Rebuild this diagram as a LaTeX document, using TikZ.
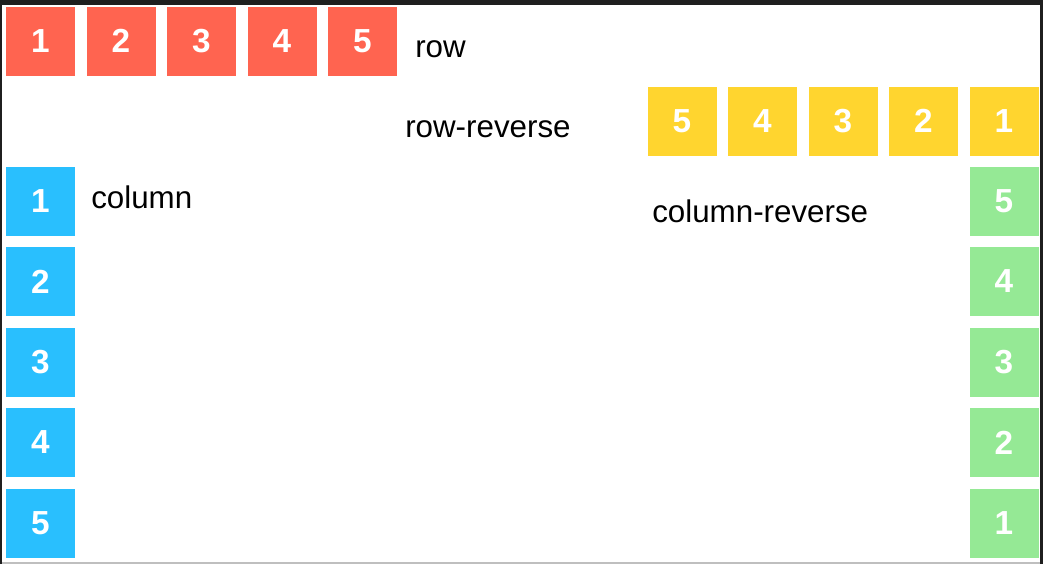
\documentclass[tikz,border=0pt]{standalone}
\usepackage{fontspec}
\setmainfont{Liberation Sans}
\usepackage{xcolor}
\usepackage{tikz}
\usetikzlibrary{positioning}

\definecolor{rowred}{HTML}{FF6450}
\definecolor{revyellow}{HTML}{FFD52F}
\definecolor{colblue}{HTML}{29BFFE}
\definecolor{revgreen}{HTML}{95E995}

\tikzset{
    item/.style={minimum size=51.75pt,inner sep=0pt,text=white,
        font=\fontsize{25}{25}\selectfont\bfseries},
    label/.style={anchor=base west,inner sep=0pt,
        font=\fontsize{23.5}{23.5}\selectfont}
}

\begin{document}
\begin{tikzpicture}[x=0.75pt,y=-0.75pt]
    % frame
    \fill[black!88] (0,0) rectangle (1043,564);
    \fill[white] (2,5) rectangle (1040,562);
    \fill[black!25] (2,562) rectangle (1040,564);

    % row (top)
    \foreach \i in {1,...,5}
        \node[item,fill=rowred] (r\i) at ({40.5+80.5*(\i-1)},41) {\i};
    \node[label] (rowlbl) at (415,57) {row};

    % row-reverse
    \foreach \i in {1,...,5}
        \node[item,fill=revyellow] (rr\i) at ({1004-80.5*(\i-1)},121) {\i};
    \node[label] (rowrevlbl) at (405,137) {row-reverse};

    % column (left)
    \foreach \i in {1,...,5}
        \node[item,fill=colblue] (c\i) at (40.5,{201+80.5*(\i-1)}) {\i};
    \node[label] (collbl) at (91,208) {column};

    % column-reverse (right)
    \foreach \i in {1,...,5}
        \node[item,fill=revgreen] (cr\i) at (1004,{523-80.5*(\i-1)}) {\i};
    \node[label] (colrevlbl) at (652,222) {column-reverse};
\end{tikzpicture}
\end{document}
